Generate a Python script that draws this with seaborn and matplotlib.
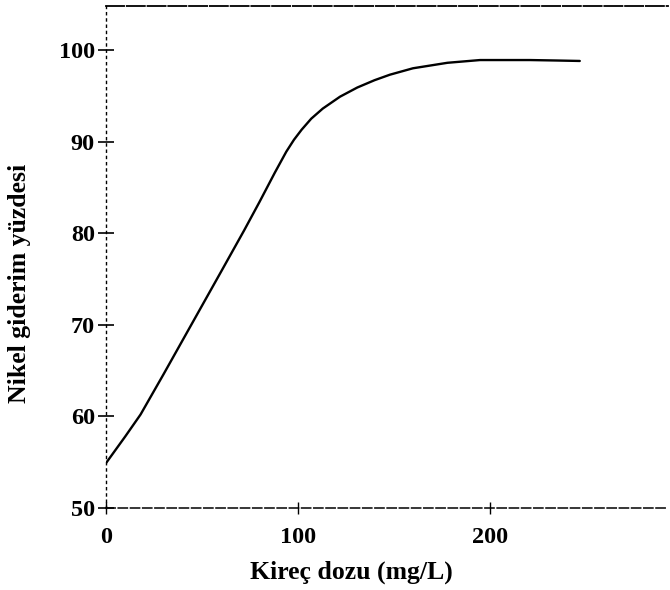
import matplotlib
matplotlib.use("Agg")
import matplotlib.pyplot as plt
import seaborn as sns
import pandas as pd

dose = [0, 10, 18, 30, 45, 60, 72, 80, 88, 94, 98, 102, 107, 113, 122, 131, 140, 148, 160, 178, 195, 210, 221, 235, 247]
removal = [54.9, 57.8, 60.2, 64.6, 70.2, 75.8, 80.3, 83.4, 86.6, 88.9, 90.2, 91.3, 92.5, 93.6, 94.9, 95.9, 96.7, 97.3, 98.0, 98.6, 98.9, 98.9, 98.9, 98.85, 98.8]
yticks = [50, 60, 70, 80, 90, 100]
xticks = [0, 100, 200]

df = pd.DataFrame({"dose": dose, "removal": removal})

sns.set_theme(style="white")
plt.rcParams["font.family"] = ["Liberation Serif", "DejaVu Serif"]
plt.rcParams["font.weight"] = "bold"
plt.rcParams["text.color"] = "black"
plt.rcParams["axes.labelcolor"] = "black"
plt.rcParams["xtick.color"] = "black"
plt.rcParams["ytick.color"] = "black"

fig = plt.figure(figsize=(6.7, 5.9), dpi=100)
ax = fig.add_axes([106 / 670, 1 - 508 / 590, (668 - 106) / 670, (508 - 6) / 590])

sns.lineplot(data=df, x="dose", y="removal", ax=ax, color="black", linewidth=1.7)

ax.set_xlim(0, 293)
ax.set_ylim(50, 104.8)
ax.set_xticks(xticks)
ax.set_yticks(yticks)
ax.set_xticklabels([str(v) for v in xticks], fontsize=17.5, fontweight="bold")
ax.set_yticklabels([str(v) for v in yticks], fontsize=17.5, fontweight="bold")

ax.tick_params(axis="y", direction="inout", length=12, width=1.2, color="black", pad=2)
ax.tick_params(axis="x", direction="inout", length=8, width=1.0, color="black", pad=10)
ax.tick_params(axis="both", left=True, bottom=True)

ax.spines["right"].set_visible(False)
for s in ["left", "bottom", "top"]:
    ax.spines[s].set_color("black")
ax.spines["top"].set_linewidth(1.3)
ax.spines["top"].set_linestyle((0, (10, 1.5)))
ax.spines["bottom"].set_linewidth(1.1)
ax.spines["bottom"].set_linestyle((0, (6, 2)))
ax.spines["left"].set_linewidth(1.0)
ax.spines["left"].set_linestyle((0, (1.5, 3)))

ax.set_xlabel("Kireç dozu (mg/L)", fontsize=18.5, fontweight="bold", va="center")
ax.set_ylabel("Nikel giderim yüzdesi", fontsize=18.5, fontweight="bold", va="center")
ax.xaxis.set_label_coords((351 - 106) / 562, -(572 - 508) / 502)
ax.yaxis.set_label_coords(-(106 - 20) / 562, (508 - 283) / 502)

fig.savefig("out.png", dpi=100)
